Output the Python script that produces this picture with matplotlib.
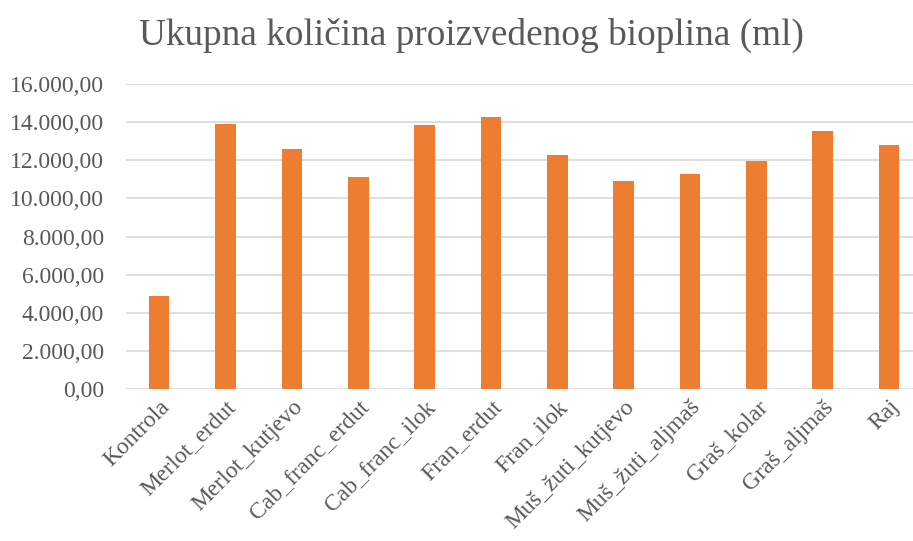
import matplotlib
matplotlib.use("Agg")
import matplotlib.pyplot as plt
from matplotlib.ticker import FuncFormatter

categories = ["Kontrola", "Merlot_erdut", "Merlot_kutjevo", "Cab_franc_erdut",
              "Cab_franc_ilok", "Fran_erdut", "Fran_ilok", "Muš_žuti_kutjevo",
              "Muš_žuti_aljmaš", "Graš_kolar", "Graš_aljmaš", "Raj"]
values = [4890, 13900, 12590, 11140, 13850, 14270, 12260, 10920, 11280, 11980, 13520, 12820]
yticks = [0, 2000, 4000, 6000, 8000, 10000, 12000, 14000, 16000]
title = "Ukupna količina proizvedenog bioplina (ml)"

plt.rcParams['font.family'] = ['Liberation Serif', 'DejaVu Serif']
grey = "#595959"

fig = plt.figure(figsize=(9.13, 5.41), dpi=100)
ax = fig.add_axes([126/913, 1-389.3/541, 1-126/913, (389.3-84)/541])
x = list(range(len(categories)))
ax.bar(x, values, width=0.31, color="#ED7D31", zorder=3)
ax.set_ylim(0, 16000)
ax.set_xlim(-0.5, 11.36)
ax.set_yticks(yticks)

def fmt(v, pos):
    s = f"{v:,.2f}"
    return s.replace(",", "X").replace(".", ",").replace("X", ".")
ax.yaxis.set_major_formatter(FuncFormatter(fmt))
ax.yaxis.grid(True, color="#d9d9d9", linewidth=1.2, zorder=0)
for s in ax.spines.values():
    s.set_visible(False)
ax.tick_params(axis='both', length=0, labelsize=17, colors=grey)
ax.tick_params(axis='y', pad=16)
ax.tick_params(axis='x', pad=5)
ax.set_xticks(x)
ax.set_xticklabels(categories, rotation=45, ha='right', rotation_mode='anchor')
for lbl in ax.get_xticklabels():
    lbl.set_color(grey)
fig.text(0.516, 0.935, title, ha='center', va='center', fontsize=26.8, color=grey)
fig.savefig("out.png", dpi=100)
